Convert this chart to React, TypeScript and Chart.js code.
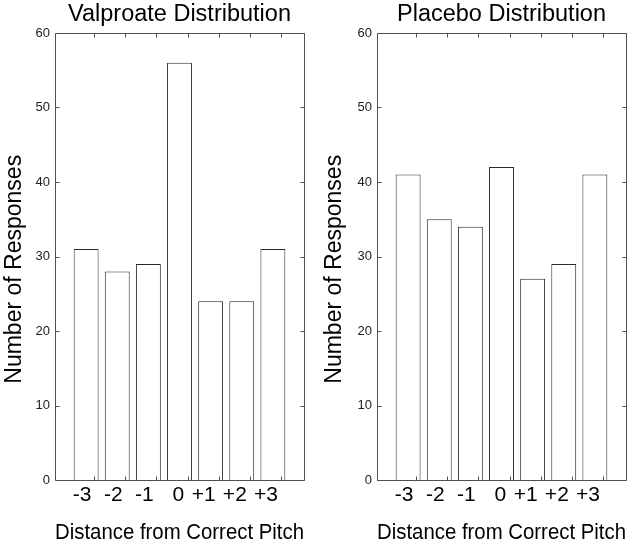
import React, { useEffect, useRef } from "react";
import { Chart, registerables } from "chart.js";
Chart.register(...registerables);

const distanceLabels = ["-3", "-2", "-1", " 0", "+1 ", "+2 ", "+3 "];
const valproateCounts = [31, 28, 29, 56, 24, 24, 31];
const placeboCounts = [41, 35, 34, 42, 27, 29, 41];
const yTickValues = [0, 10, 20, 30, 40, 50, 60];
const valproateTitle = "Valproate Distribution";
const placeboTitle = "Placebo Distribution";
const xAxisTitle = "Distance from Correct Pitch";
const yAxisTitle = "Number of Responses    ";

const FONT = "'Liberation Sans', Arial, Helvetica, sans-serif";

const boxPlugin = {
  id: "matlabBox",
  afterDraw(chart: any) {
    const { ctx, chartArea: a, scales } = chart;
    const xs = scales.x;
    const ys = scales.y;
    const L = Math.round(a.left) + 0.5;
    const R = Math.round(a.right) + 0.5;
    const T = Math.round(a.top) + 0.5;
    const B = Math.round(a.bottom) + 0.5;
    ctx.save();
    ctx.strokeStyle = "#505050";
    ctx.lineWidth = 1;
    ctx.beginPath();
    ctx.moveTo(L, T);
    ctx.lineTo(R, T);
    ctx.lineTo(R, B);
    ctx.lineTo(L, B);
    ctx.closePath();
    const tl = 4;
    for (const v of yTickValues) {
      const py = Math.round(ys.getPixelForValue(v)) + 0.5;
      ctx.moveTo(L, py);
      ctx.lineTo(L + tl, py);
      ctx.moveTo(R, py);
      ctx.lineTo(R - tl, py);
    }
    distanceLabels.forEach((_, i) => {
      const px = Math.round(xs.getPixelForValue(i + 1 + 0.26)) + 0.5;
      ctx.moveTo(px, T);
      ctx.lineTo(px, T + tl);
      ctx.moveTo(px, B);
      ctx.lineTo(px, B - tl);
    });
    ctx.stroke();
    ctx.restore();
  },
};

function Panel({ title, counts, yWidth, padRight, yTitlePad }: any) {
  const ref = useRef<HTMLCanvasElement>(null);
  useEffect(() => {
    const chart = new Chart(ref.current as HTMLCanvasElement, {
      type: "bar",
      data: {
        datasets: [
          {
            data: counts.map((c: number, i: number) => ({ x: i + 1, y: c })),
            backgroundColor: "#ffffff",
            borderColor: "#2a2a2a",
            borderWidth: 1,
            categoryPercentage: 1,
            barPercentage: 0.8,
          },
        ],
      },
      options: {
        animation: false,
        responsive: false,
        devicePixelRatio: 1,
        layout: { padding: { left: 0, right: padRight, top: 0, bottom: 0 } },
        plugins: {
          legend: { display: false },
          tooltip: { enabled: false },
          title: {
            display: true,
            text: title,
            fullSize: false,
            color: "#000",
            font: { family: FONT, size: 23.5, weight: "normal", lineHeight: 1.2 },
            padding: { top: 0, bottom: 4.8 },
          },
        },
        scales: {
          x: {
            type: "linear",
            offset: false,
            min: 0,
            max: 8,
            grid: { display: false, drawTicks: false, offset: false },
            border: { display: false },
            afterBuildTicks: (s: any) => {
              s.ticks = distanceLabels.map((_, i) => ({ value: i + 1 }));
            },
            afterFit: (s: any) => {
              s.height = 64;
            },
            ticks: {
              autoSkip: false,
              maxRotation: 0,
              color: "#000",
              padding: 3,
              labelOffset: -4,
              font: { family: FONT, size: 21 },
              callback: (v: any) => distanceLabels[Math.round(v) - 1] ?? "",
            },
            title: {
              display: true,
              text: xAxisTitle,
              color: "#000",
              font: { family: FONT, size: 21.5, lineHeight: 1.0 },
              padding: { top: 0, bottom: 0 },
            },
          },
          y: {
            min: 0,
            max: 60,
            grid: { display: false, drawTicks: false },
            border: { display: false },
            afterBuildTicks: (s: any) => {
              s.ticks = yTickValues.map((v) => ({ value: v }));
            },
            afterFit: (s: any) => {
              s.width = yWidth;
            },
            ticks: {
              color: "#222",
              padding: 5,
              font: { family: FONT, size: 13 },
            },
            title: {
              display: true,
              text: yAxisTitle,
              color: "#000",
              font: { family: FONT, size: 23, lineHeight: 1.2 },
              padding: { top: yTitlePad, bottom: 0 },
            },
          },
        },
      },
      plugins: [boxPlugin],
    } as any);
    return () => chart.destroy();
  }, [title, counts, yWidth, padRight, yTitlePad]);
  return <canvas ref={ref} width={315} height={544} style={{ display: "block" }} />;
}

export default function App() {
  return (
    <div
      style={{
        position: "fixed",
        left: 0,
        top: 0,
        width: 630,
        height: 544,
        background: "#fff",
      }}
    >
      <div style={{ position: "absolute", left: 0, top: 0 }}>
        <Panel title={valproateTitle} counts={valproateCounts} yWidth={55} padRight={11} yTitlePad={0.5} />
      </div>
      <div style={{ position: "absolute", left: 315, top: 0 }}>
        <Panel title={placeboTitle} counts={placeboCounts} yWidth={62} padRight={4} yTitlePad={6} />
      </div>
    </div>
  );
}
